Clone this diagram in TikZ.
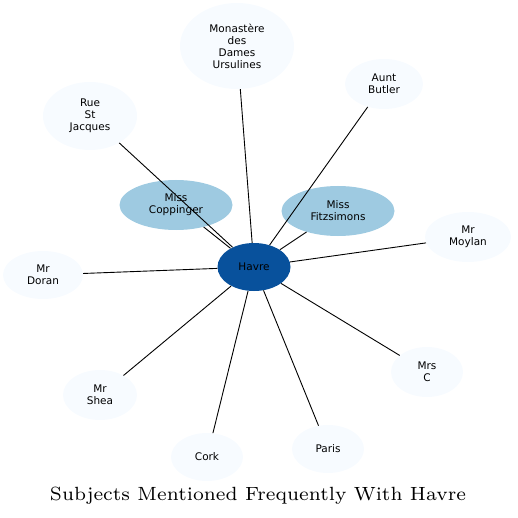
\documentclass[tikz,border=0pt]{standalone}
\usepackage{graphicx}
\usepackage{fontspec}
\newfontfamily\nodefont{DejaVu Sans}
\usetikzlibrary{shapes.geometric}
\definecolor{hubblue}{HTML}{08519C}
\definecolor{midblue}{HTML}{9ECAE1}
\definecolor{paleblue}{HTML}{F7FBFF}
\begin{document}
\begin{tikzpicture}[x=1pt, y=-1pt,
  subj/.style={ellipse, inner sep=0pt, align=center, font=\nodefont\fontsize{10.5}{12}\selectfont},
  outer/.style={subj, fill=paleblue},
  near/.style={subj, fill=midblue},
  hub/.style={subj, fill=hubblue},
  link/.style={line width=0.9pt}]
\useasboundingbox (0,0) rectangle (518,518);
\node[hub, minimum width=73pt, minimum height=48pt] (havre) at (254,267) {Havre};
\node[near, minimum width=113pt, minimum height=50pt] (copp) at (176,205) {Miss\\Coppinger};
\node[near, minimum width=113pt, minimum height=50pt] (fitz) at (338,211) {Miss\\Fitzsimons};
\node[outer, minimum width=114pt, minimum height=86pt] (mon) at (237,46) {Monastère\\des\\Dames\\Ursulines};
\node[outer, minimum width=78pt, minimum height=50pt] (aunt) at (384,84) {Aunt\\Butler};
\node[outer, minimum width=94pt, minimum height=68pt] (rue) at (90,116) {Rue\\St\\Jacques};
\node[outer, minimum width=86pt, minimum height=50pt] (moylan) at (468,237) {Mr\\Moylan};
\node[outer, minimum width=80pt, minimum height=48pt] (doran) at (43,275) {Mr\\Doran};
\node[outer, minimum width=72pt, minimum height=50pt] (mrsc) at (427,372) {Mrs\\C};
\node[outer, minimum width=74pt, minimum height=50pt] (shea) at (100,395) {Mr\\Shea};
\node[outer, minimum width=72pt, minimum height=48pt] (cork) at (207,457) {Cork};
\node[outer, minimum width=72pt, minimum height=48pt] (paris) at (328,449) {Paris};
\node (title) at (258,496) {\scalebox{2.73}{\fontsize{7}{8}\selectfont Subjects Mentioned Frequently With Havre}};
\draw[link] (havre) -- (copp);
\draw[link] (havre) -- (fitz);
\draw[link] (havre) -- (mon);
\draw[link] (havre) -- (aunt);
\draw[link] (havre) -- (rue);
\draw[link] (havre) -- (moylan);
\draw[link] (havre) -- (doran);
\draw[link] (havre) -- (mrsc);
\draw[link] (havre) -- (shea);
\draw[link] (havre) -- (cork);
\draw[link] (havre) -- (paris);
\end{tikzpicture}
\end{document}
